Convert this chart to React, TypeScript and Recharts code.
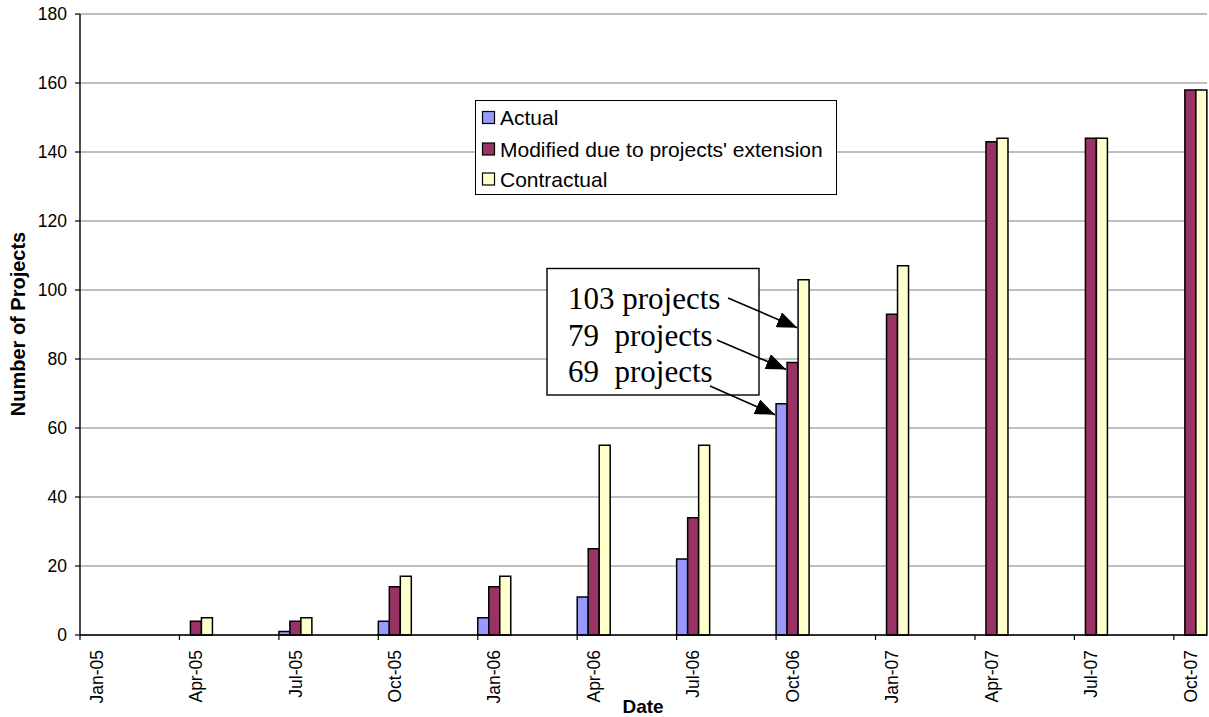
import React from 'react';
import { BarChart, Bar, XAxis, YAxis, CartesianGrid } from 'recharts';

// ---- data ----
const quarterLabels = ['Jan-05', 'Apr-05', 'Jul-05', 'Oct-05', 'Jan-06', 'Apr-06', 'Jul-06', 'Oct-06', 'Jan-07', 'Apr-07', 'Jul-07', 'Oct-07'];
const actualValues: (number | null)[] = [0, 0, 1, 4, 5, 11, 22, 67, null, null, null, null];
const modifiedValues: (number | null)[] = [0, 4, 4, 14, 14, 25, 34, 79, 93, 143, 144, 158];
const contractualValues: (number | null)[] = [0, 5, 5, 17, 17, 55, 55, 103, 107, 144, 144, 158];
const yTicks = [0, 20, 40, 60, 80, 100, 120, 140, 160, 180];
const monthNames = ['Jan', 'Feb', 'Mar', 'Apr', 'May', 'Jun', 'Jul', 'Aug', 'Sep', 'Oct', 'Nov', 'Dec'];
const seriesNames = ['Actual', "Modified due to projects' extension", 'Contractual'];
const seriesColors = ['#9999FF', '#993366', '#FFFFCC'];
const annotationLines = ['103 projects', '79  projects', '69  projects'];

// ---- layout ----
const W = 1209;
const H = 717;
const PLOT_LEFT = 80;
const PLOT_RIGHT = 1207;
const PLOT_TOP = 14;
const PLOT_BOTTOM = 635;
const PLOT_W = PLOT_RIGHT - PLOT_LEFT;
const SANS = '"Liberation Sans", Arial, sans-serif';
const SERIF = '"Liberation Serif", "Times New Roman", serif';

// months Jan-05 .. Oct-07 (date axis with monthly base unit)
const months: string[] = [];
for (let i = 0; i < 34; i++) {
  const yr = 5 + Math.floor(i / 12);
  months.push(`${monthNames[i % 12]}-${String(yr).padStart(2, '0')}`);
}

const data = months.map((m) => {
  const q = quarterLabels.indexOf(m);
  return {
    month: m,
    actual: q >= 0 ? actualValues[q] : null,
    modified: q >= 0 ? modifiedValues[q] : null,
    contractual: q >= 0 ? contractualValues[q] : null,
  };
});

const MonthTick = (props: any) => {
  const { x, payload } = props;
  if (!quarterLabels.includes(payload.value)) return <g />;
  const band = PLOT_W / months.length;
  const bx = x - band / 2;
  return (
    <g>
      <line x1={bx} y1={PLOT_BOTTOM} x2={bx} y2={PLOT_BOTTOM + 5} stroke="#000" strokeWidth={1.2} />
      <text
        transform={`translate(${x},${PLOT_BOTTOM + 15}) rotate(-90)`}
        textAnchor="end"
        dy="0.35em"
        fontSize={17.5}
        fontFamily={SANS}
        fill="#000"
      >
        {payload.value}
      </text>
    </g>
  );
};

// annotation geometry derived from the chart scale
const band = PLOT_W / months.length;
const yPix = (v: number) => PLOT_BOTTOM - (v * (PLOT_BOTTOM - PLOT_TOP)) / 180;
const octIdx = months.indexOf('Oct-06');
const octQ = quarterLabels.indexOf('Oct-06');
const barLeft = (k: number) => PLOT_LEFT + octIdx * band + (k * band) / 3;
const arrows = [
  { x1: 728, y1: 298, x2: barLeft(2) - 1, y2: yPix(contractualValues[octQ] as number) + 48 },
  { x1: 717, y1: 340, x2: barLeft(1) - 1, y2: yPix(modifiedValues[octQ] as number) + 7 },
  { x1: 710, y1: 386, x2: barLeft(0) - 1, y2: yPix(actualValues[octQ] as number) + 11 },
];

export default function App() {
  return (
    <div style={{ position: 'absolute', left: 0, top: 0, width: W, height: H, background: '#fff', fontFamily: SANS }}>
      <BarChart
        width={W}
        height={H}
        data={data}
        margin={{ top: PLOT_TOP, right: W - PLOT_RIGHT, bottom: 0, left: 0 }}
        barCategoryGap={0}
        barGap={0}
      >
        <CartesianGrid vertical={false} stroke="#808080" strokeWidth={1} />
        <XAxis
          dataKey="month"
          type="category"
          interval={0}
          height={H - PLOT_BOTTOM}
          tickSize={0}
          tickMargin={0}
          tickLine={false}
          axisLine={{ stroke: '#000', strokeWidth: 1.4 }}
          tick={<MonthTick />}
        />
        <YAxis
          domain={[0, 180]}
          ticks={yTicks}
          interval={0}
          width={PLOT_LEFT}
          tickSize={5}
          tickMargin={8}
          axisLine={{ stroke: '#000', strokeWidth: 1.4 }}
          tickLine={{ stroke: '#000', strokeWidth: 1.2 }}
          tick={{ fontSize: 17.5, fill: '#000', fontFamily: SANS }}
        />
        <YAxis
          yAxisId="r"
          orientation="right"
          domain={[0, 180]}
          width={0}
          tick={false}
          tickLine={false}
          axisLine={{ stroke: '#808080' }}
        />
        <Bar dataKey="actual" name={seriesNames[0]} fill={seriesColors[0]} stroke="#000" strokeWidth={1.5} isAnimationActive={false} />
        <Bar dataKey="modified" name={seriesNames[1]} fill={seriesColors[1]} stroke="#000" strokeWidth={1.5} isAnimationActive={false} />
        <Bar dataKey="contractual" name={seriesNames[2]} fill={seriesColors[2]} stroke="#000" strokeWidth={1.5} isAnimationActive={false} />
      </BarChart>

      <svg
        width={W}
        height={H}
        style={{ position: 'absolute', left: 0, top: 0, pointerEvents: 'none' }}
      >
        <defs>
          <marker id="arrowHead" markerUnits="userSpaceOnUse" markerWidth={20} markerHeight={16} refX={20} refY={8} orient="auto">
            <path d="M0,0 L20,8 L0,16 z" fill="#000" />
          </marker>
        </defs>

        {/* axis titles */}
        <text
          transform="translate(25,324) rotate(-90)"
          textAnchor="middle"
          fontSize={20}
          fontWeight="bold"
          fontFamily={SANS}
          fill="#000"
        >
          Number of Projects
        </text>
        <text x={643} y={713} textAnchor="middle" fontSize={19} fontWeight="bold" fontFamily={SANS} fill="#000">
          Date
        </text>

        {/* legend */}
        <rect x={475.5} y={100.5} width={361} height={94} fill="#fff" stroke="#000" strokeWidth={1} />
        {seriesNames.map((name, i) => {
          const base = [125, 156.5, 186.5][i];
          return (
            <g key={name}>
              <rect x={482.5} y={base - 13.5} width={12} height={12} fill={seriesColors[i]} stroke="#000" strokeWidth={1.2} />
              <text x={500} y={base} fontSize={21} fontFamily={SANS} fill="#000">
                {name}
              </text>
            </g>
          );
        })}

        {/* annotation */}
        <rect x={547} y={268.5} width={212} height={126.5} fill="#fff" stroke="#000" strokeWidth={1.4} />
        {annotationLines.map((t, i) => (
          <text
            key={i}
            x={568}
            y={[309, 346, 382][i]}
            fontSize={31}
            fontFamily={SERIF}
            fill="#000"
            style={{ whiteSpace: 'pre' }}
          >
            {t}
          </text>
        ))}
        {arrows.map((a, i) => (
          <line key={i} x1={a.x1} y1={a.y1} x2={a.x2} y2={a.y2} stroke="#000" strokeWidth={1.6} markerEnd="url(#arrowHead)" />
        ))}
      </svg>
    </div>
  );
}
